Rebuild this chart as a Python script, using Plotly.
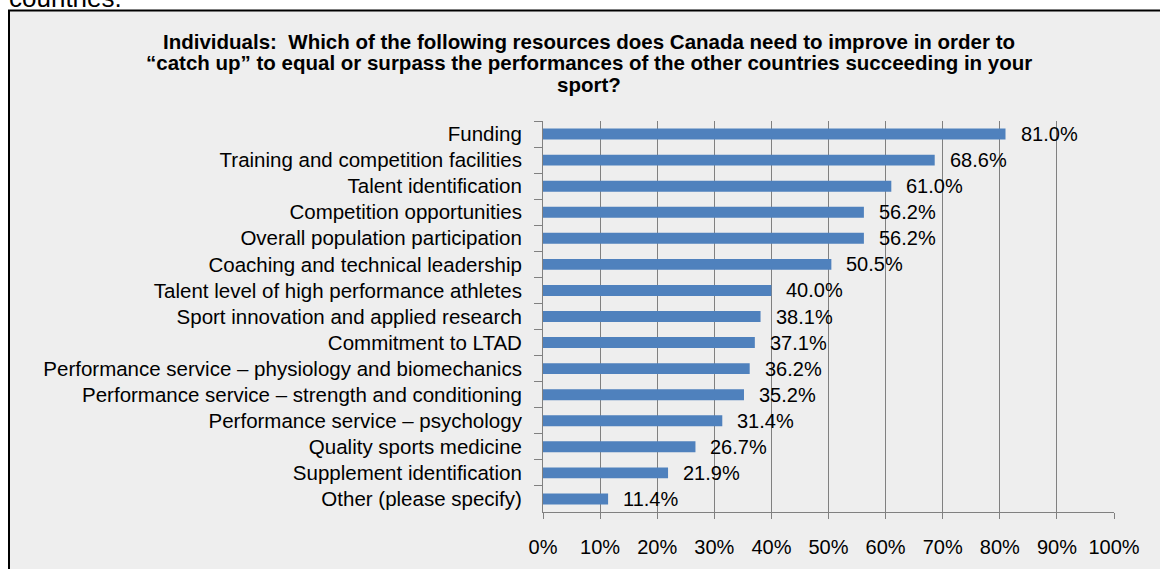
import plotly.graph_objects as go

# ---- data ----
categories = [
    "Funding",
    "Training and competition facilities",
    "Talent identification",
    "Competition opportunities",
    "Overall population participation",
    "Coaching and technical leadership",
    "Talent level of high performance athletes",
    "Sport innovation and applied research",
    "Commitment to LTAD",
    "Performance service – physiology and biomechanics",
    "Performance service – strength and conditioning",
    "Performance service – psychology",
    "Quality sports medicine",
    "Supplement identification",
    "Other (please specify)",
]
percent = [81.0, 68.6, 61.0, 56.2, 56.2, 50.5, 40.0, 38.1, 37.1, 36.2, 35.2, 31.4, 26.7, 21.9, 11.4]
x_tick_values = [0, 10, 20, 30, 40, 50, 60, 70, 80, 90, 100]
x_tick_labels = [f"{v}%" for v in x_tick_values]
title_lines = [
    "Individuals:  Which of the following resources does Canada need to improve in order to",
    "“catch up” to equal or surpass the performances of the other countries succeeding in your",
    "sport?",
]
lead_text = "countries."

# ---- geometry (pixels) ----
W, H = 1160, 569
PLOT_L, PLOT_R, PLOT_T, PLOT_B = 543, 1114, 121, 512
FONT = "Liberation Sans, Arial, sans-serif"
BAR = "#4F81BD"
AXIS = "#808080"
PANEL = "#EEEEEE"


def px_x(px):
    return (px - PLOT_L) / (PLOT_R - PLOT_L)


def px_y(py):
    return (PLOT_B - py) / (PLOT_B - PLOT_T)


fig = go.Figure(
    go.Bar(
        x=percent,
        y=categories,
        orientation="h",
        marker=dict(color=BAR, line=dict(width=0)),
        width=0.42,
        hoverinfo="skip",
    )
)

annotations = []
for cat, val in zip(categories, percent):
    annotations.append(dict(
        x=val, y=cat, xref="x", yref="y",
        text=f"{val:.1f}%", showarrow=False,
        xanchor="left", yanchor="middle", xshift=13,
        font=dict(family=FONT, size=20, color="black"),
    ))

for line, cy in zip(title_lines, [41, 63, 85]):
    annotations.append(dict(
        x=px_x(589), y=px_y(cy), xref="paper", yref="paper",
        text=f"<b>{line}</b>", showarrow=False,
        xanchor="center", yanchor="middle",
        font=dict(family=FONT, size=20.5, color="black"),
    ))

annotations.append(dict(
    x=px_x(7), y=px_y(-2.5), xref="paper", yref="paper",
    text=lead_text, showarrow=False,
    xanchor="left", yanchor="middle",
    font=dict(family=FONT, size=26, color="black"),
))

fig.update_layout(
    width=W, height=H,
    margin=dict(l=PLOT_L, r=W - PLOT_R, t=PLOT_T, b=H - PLOT_B, pad=0),
    paper_bgcolor="white",
    plot_bgcolor="rgba(0,0,0,0)",
    showlegend=False,
    annotations=annotations,
    shapes=[dict(
        type="rect", xref="paper", yref="paper",
        x0=px_x(9), x1=px_x(1200), y0=px_y(10.5), y1=px_y(620),
        fillcolor=PANEL, line=dict(color="black", width=2), layer="below",
    )],
)

fig.update_xaxes(
    range=[0, 100],
    tickvals=x_tick_values, ticktext=x_tick_labels,
    showgrid=True, gridcolor=AXIS, gridwidth=1,
    showline=True, linecolor=AXIS, linewidth=1,
    ticks="outside", ticklen=6, tickcolor=AXIS, tickwidth=1,
    tickfont=dict(family=FONT, size=20, color="black"),
    ticklabelstandoff=11,
    zeroline=False, fixedrange=True,
)
fig.update_yaxes(
    type="category", autorange="reversed",
    showgrid=False,
    showline=True, linecolor=AXIS, linewidth=1,
    ticks="outside", ticklen=8, tickcolor=AXIS, tickwidth=1,
    tickson="boundaries",
    tickfont=dict(family=FONT, size=20.5, color="black"),
    ticklabelstandoff=16,
    zeroline=False, fixedrange=True,
)

fig.write_html("out.html")
